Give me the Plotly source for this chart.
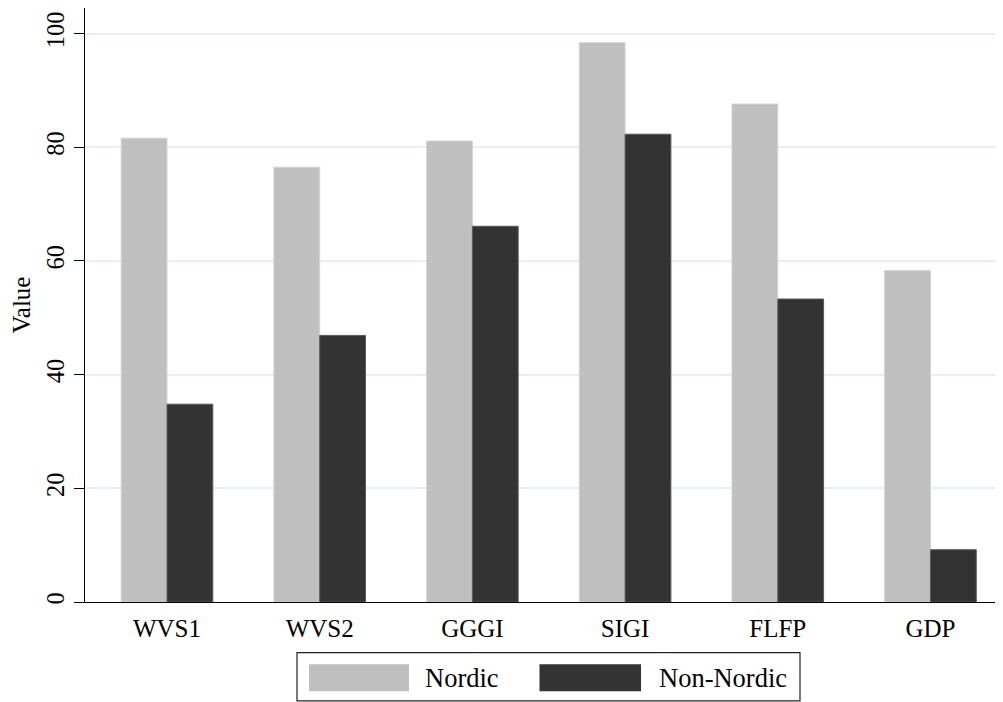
import plotly.graph_objects as go

categories = ["WVS1", "WVS2", "GGGI", "SIGI", "FLFP", "GDP"]
nordic = [81.6, 76.5, 81.1, 98.4, 87.6, 58.3]
non_nordic = [34.8, 46.9, 66.1, 82.3, 53.3, 9.2]
series_names = ["Nordic", "Non-Nordic"]
y_ticks = [0, 20, 40, 60, 80, 100]

OFF = 8  # page body margin
W, H = 1003 - OFF, 702 - OFF
L, R, T = 85 - OFF, 0, 0
B = H - (601.7 - OFF)
PW, PH = W - L - R, H - T - B
FONT = "Liberation Serif"
C_NORDIC = "#bfbfbf"
C_NON = "#333333"


def px_x(x):
    return (x - OFF - L) / PW


def px_y(y):
    return (H - B - (y - OFF)) / PH


fig = go.Figure()
fig.add_trace(go.Bar(x=categories, y=nordic, name=series_names[0],
                     marker=dict(color=C_NORDIC, line=dict(color="#d4d4d4", width=1)),
                     showlegend=False))
fig.add_trace(go.Bar(x=categories, y=non_nordic, name=series_names[1],
                     marker=dict(color=C_NON, line=dict(color="#5a5a5a", width=1)),
                     showlegend=False))

# manual legend (box with large swatches)
shapes = [
    dict(type="rect", xref="paper", yref="paper",
         x0=px_x(297), x1=px_x(800), y0=px_y(700.5), y1=px_y(652.3),
         line=dict(color="#222222", width=1.2), fillcolor="rgba(0,0,0,0)"),
    dict(type="rect", xref="paper", yref="paper",
         x0=px_x(309), x1=px_x(409), y0=px_y(691), y1=px_y(664),
         line=dict(width=0), fillcolor=C_NORDIC),
    dict(type="rect", xref="paper", yref="paper",
         x0=px_x(539.5), x1=px_x(641), y0=px_y(691), y1=px_y(664),
         line=dict(width=0), fillcolor=C_NON),
]
annotations = [
    dict(text=series_names[0], xref="paper", yref="paper", x=px_x(423), y=px_y(678),
         xanchor="left", yanchor="middle", showarrow=False,
         font=dict(family=FONT, size=26.5, color="black")),
    dict(text=series_names[1], xref="paper", yref="paper", x=px_x(657), y=px_y(678),
         xanchor="left", yanchor="middle", showarrow=False,
         font=dict(family=FONT, size=26.5, color="black")),
]

fig.update_layout(
    width=W, height=H,
    margin=dict(l=L, r=R, t=T, b=B, pad=0),
    paper_bgcolor="white", plot_bgcolor="white",
    barmode="group", bargap=0.4, bargroupgap=0,
    shapes=shapes, annotations=annotations,
    font=dict(family=FONT, color="black"),
)
fig.update_xaxes(
    type="category", range=[-0.537, 5.475],
    showline=True, linecolor="black", linewidth=1.3,
    ticks="", showgrid=False,
    tickfont=dict(family=FONT, size=25, color="black"),
    ticklabelstandoff=4,
)
fig.update_yaxes(
    range=[0, 104.5], tickvals=y_ticks,
    showline=True, linecolor="black", linewidth=1.3,
    ticks="outside", ticklen=10, tickwidth=1.3, tickcolor="black",
    tickangle=-90,
    tickfont=dict(family=FONT, size=24.5, color="black"),
    showgrid=True, gridcolor="#e8eff2", gridwidth=1.6,
    zeroline=False,
    title=dict(text="Value", font=dict(family=FONT, size=25, color="black"), standoff=12),
)

fig.write_html("out.html")
